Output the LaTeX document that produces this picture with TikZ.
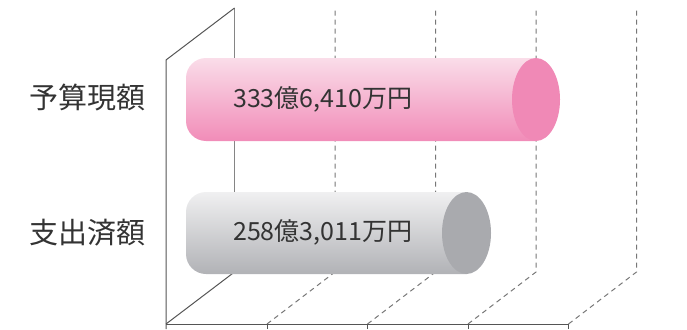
\documentclass[tikz,border=0pt]{standalone}
\usepackage{fontspec}
\setmainfont{Noto Sans CJK JP}
\definecolor{framec}{HTML}{555555}
\definecolor{dashc}{HTML}{777777}
\definecolor{txtc}{HTML}{333333}
\definecolor{pinktop}{HTML}{FADDE9}
\definecolor{pinkbot}{HTML}{F18CB8}
\definecolor{pinkcap}{HTML}{F089B6}
\definecolor{greytop}{HTML}{F0F0F1}
\definecolor{greybot}{HTML}{B1B2B6}
\definecolor{greycap}{HTML}{A9AAAE}
\tikzset{
  frameline/.style={draw=framec, line width=1pt},
  backline/.style={draw=dashc!90, line width=1.2pt},
  gridline/.style={draw=dashc, line width=1pt, dash pattern=on 5pt off 4pt},
  catlabel/.style={anchor=east, font=\fontsize{29}{32}\selectfont, text=txtc, inner sep=0pt},
  vallabel/.style={anchor=west, font=\fontsize{25}{28}\selectfont, text=txtc, inner sep=0pt},
}
\begin{document}
\begin{tikzpicture}[x=1pt,y=-1pt]
\useasboundingbox (0,0) rectangle (687,329);
% frame coordinates
\coordinate (ft) at (166,60);
\coordinate (fb) at (166,324);
\coordinate (bt) at (234.5,8);
\coordinate (bb) at (234.5,272);
\foreach \i/\x in {1/267,2/367.5,3/468,4/568.5}{
  \coordinate (t\i) at (\x,324);
  \coordinate (td\i) at (\x,329);
  \coordinate (g\i) at ({\x+68},272);
  \coordinate (gt\i) at ({\x+68},8);
}
\coordinate (fbd) at (166,329);
% back wall and grid
\draw[backline] (bt) -- (bb);
\foreach \i in {1,...,4}{
  \draw[gridline] (t\i) -- (g\i) -- (gt\i);
}
% frame
\draw[frameline] (bt) -- (ft) -- (fbd);
\draw[frameline] (fb) -- (bb);
\draw[frameline] (fb) -- (t4);
\foreach \i in {1,...,4}{ \draw[frameline] (t\i) -- (td\i); }
% pink bar
\path[top color=pinktop, bottom color=pinkbot, rounded corners=20pt]
  (536,58) -- (186,58) -- (186,141) [sharp corners] -- (536,141) -- cycle;
\fill[pinkcap] (536,99.5) ellipse [x radius=24, y radius=41.5];
% grey bar
\path[top color=greytop, bottom color=greybot, rounded corners=20pt]
  (466.5,192) -- (186,192) -- (186,274) [sharp corners] -- (466.5,274) -- cycle;
\fill[greycap] (466.5,233) ellipse [x radius=24.5, y radius=41];
% labels
\node[catlabel] (c1) at (146,97) {予算現額};
\node[catlabel] (c2) at (146,233) {支出済額};
\node[vallabel] (v1) at (233,99) {333億6,410万円};
\node[vallabel] (v2) at (233,232) {258億3,011万円};
\end{tikzpicture}
\end{document}
